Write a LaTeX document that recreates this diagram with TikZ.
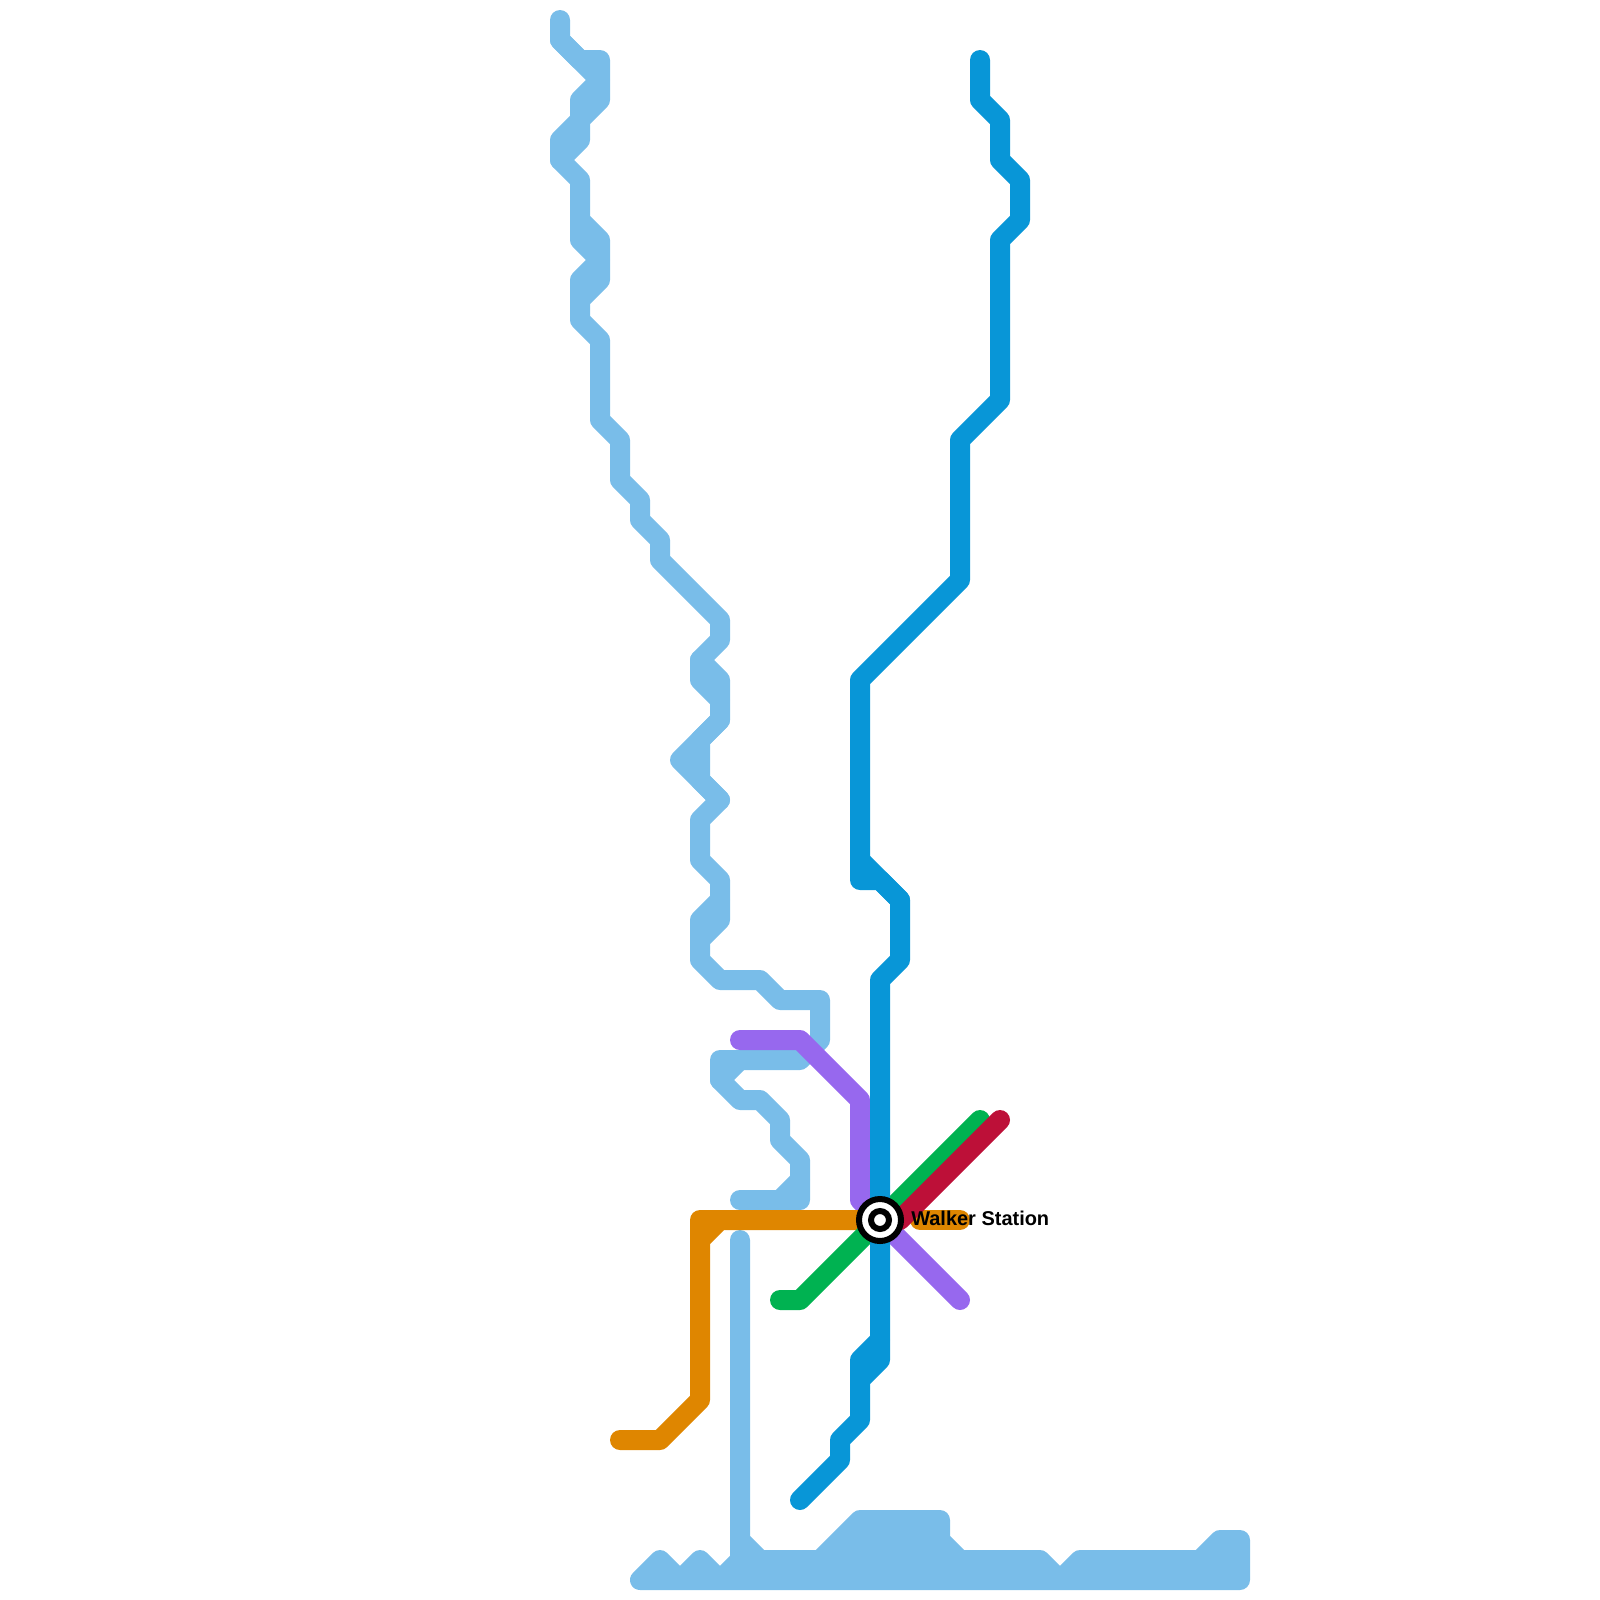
\documentclass[tikz,border=0pt]{standalone}
\usepackage{fontspec}
\setmainfont{Liberation Sans}
\definecolor{skyline}{HTML}{79BDE9}
\definecolor{blueline}{HTML}{0896D7}
\definecolor{purpleline}{HTML}{9768EE}
\definecolor{greenline}{HTML}{00B251}
\definecolor{redline}{HTML}{BD1038}
\definecolor{orangeline}{HTML}{DF8600}
\tikzset{metro/.style={line width=0.5cm, line join=round, line cap=round}}
\begin{document}
\begin{tikzpicture}[x=0.5cm, y=-0.5cm, every node/.style={circle, inner sep=0pt}]
  \useasboundingbox (0,0) rectangle (80,80);
  \coordinate (walker) at (44,61);
  \draw[metro, skyline] (28,1) -- (28,2) -- (29,3) -- (30,3) -- (30,5) -- (29,6) -- (29,7) -- (28,8) -- (29,9) -- (29,11) -- (30,12) -- (30,14) -- (29,15) -- (29,16) -- (30,17) -- (30,21) -- (31,22) -- (31,24) -- (32,25) -- (32,26) -- (33,27) -- (33,28) -- (36,31) -- (36,32) -- (35,33) -- (35,34) -- (36,35) -- (36,36) -- (34,38) -- (36,40) -- (35,41) -- (35,43) -- (36,44) -- (36,46) -- (35,47) -- (35,48) -- (36,49) -- (38,49) -- (39,50) -- (41,50) -- (41,52) -- (40,53) -- (36,53) -- (36,54) -- (37,55) -- (38,55) -- (39,56) -- (39,57) -- (40,58) -- (40,60) -- (37,60);
  \draw[metro, skyline] (28,2) -- (30,4) -- (29,5) -- (29,6) -- (28,7) -- (28,8);
  \draw[metro, skyline] (29,11) -- (29,12) -- (30,13) -- (29,14) -- (29,15);
  \draw[metro, skyline] (35,33) -- (36,34) -- (36,35);
  \draw[metro, skyline] (36,36) -- (35,37) -- (35,39) -- (36,40);
  \draw[metro, skyline] (36,45) -- (35,46) -- (35,47);
  \draw[metro, skyline] (36,54) -- (37,53);
  \draw[metro, skyline] (40,59) -- (39,60);
  \draw[metro, skyline, fill=skyline] (37,62) -- (37,77) -- (38,78) -- (41,78) -- (43,76) -- (47,76) -- (47,77) -- (48,78) -- (52,78) -- (53,79) -- (54,78) -- (60,78) -- (61,77) -- (62,77) -- (62,79) -- (32,79) -- (33,78) -- (34,79) -- (35,78) -- (36,79) -- (37,78) -- (37,62);
  \draw[metro, purpleline] (37,52) -- (40,52) -- (43,55) -- (43,60) -- (walker) -- (48,65);
  \draw[metro, orangeline] (31,72) -- (33,72) -- (35,70) -- (35,62) -- (36,61) -- (walker);
  \draw[metro, orangeline] (35,62) -- (35,61) -- (36,61);
  \draw[metro, orangeline] (46,61) -- (48,61);
  \draw[metro, greenline] (39,65) -- (40,65) -- (walker) -- (49,56);
  \draw[metro, redline] (walker) -- (45,61) -- (50,56);
  \draw[metro, blueline] (49,3) -- (49,5) -- (50,6) -- (50,8) -- (51,9) -- (51,11) -- (50,12) -- (50,20) -- (48,22) -- (48,29) -- (43,34) -- (43,44) -- (44,44) -- (45,45) -- (45,48) -- (44,49) -- (44,68) -- (43,69) -- (43,71) -- (42,72) -- (42,73) -- (40,75);
  \draw[metro, blueline] (43,43) -- (45,45);
  \draw[metro, blueline] (44,67) -- (43,68) -- (43,69);
  \node[draw=black, fill=white, line width=4.27pt, minimum size=1.05cm] (walkerouter) at (walker) {};
  \node[draw=black, fill=white, line width=4.27pt, minimum size=0.45cm] (walkerinner) at (walker) {};
  \node[anchor=base west, rectangle, font=\fontsize{14.2pt}{16pt}\selectfont\bfseries] (walkerlabel) at (45.55,61.25) {Walker Station};
\end{tikzpicture}
\end{document}
